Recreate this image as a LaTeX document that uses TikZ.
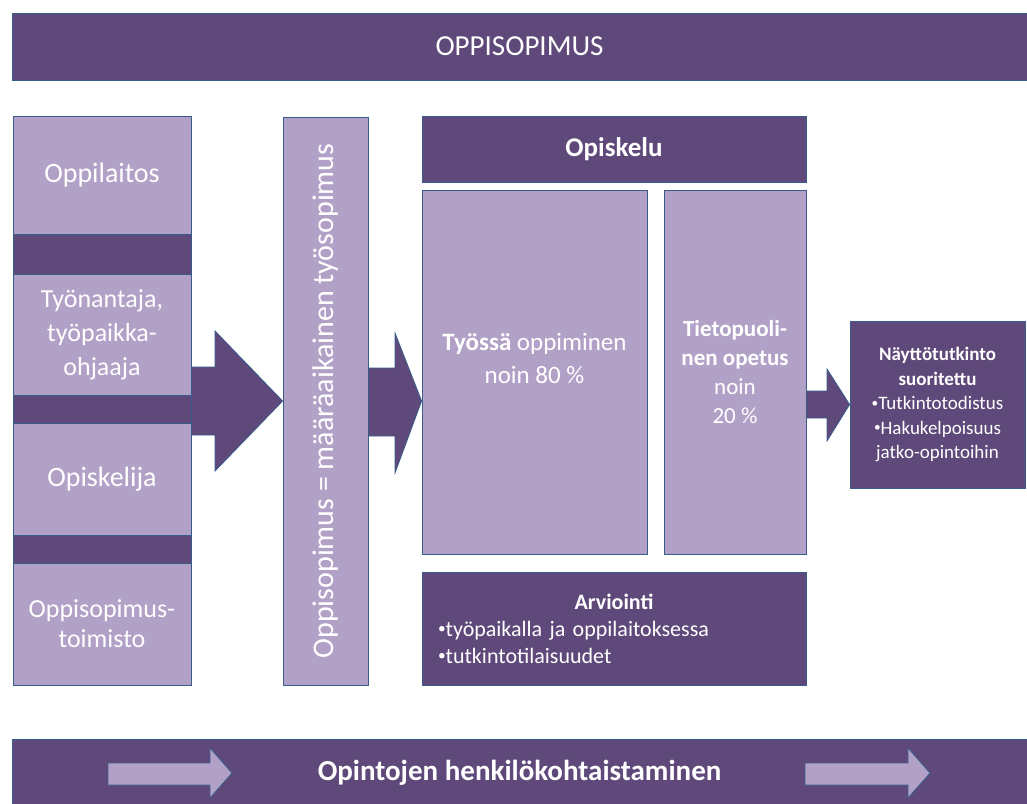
\documentclass[tikz,border=0pt]{standalone}
\usepackage{fontspec}
\setmainfont{Carlito}
\usetikzlibrary{positioning,backgrounds}
\definecolor{plumdark}{HTML}{5F497A}
\definecolor{plumlight}{HTML}{B2A1C7}
\definecolor{edgeblue}{HTML}{385D8A}
\newcommand{\smallbul}{\raisebox{0.12em}{\scalebox{0.7}{•}}}

\begin{document}
\begin{tikzpicture}[x=1pt, y=-1pt, every node/.style={inner sep=0pt, text=white, align=center}, darkbox/.style={draw=edgeblue, line width=0.8pt, fill=plumdark}, lightbox/.style={draw=edgeblue, line width=0.8pt, fill=plumlight}, bigarrow/.style={draw=edgeblue, line width=0.8pt, fill=plumdark}, smallarrow/.style={draw=edgeblue, line width=0.8pt, fill=plumlight}]
\useasboundingbox (0,0) rectangle (1027,803);
\node[darkbox, minimum width=1015pt, minimum height=67pt, font=\fontsize{29}{34}\selectfont] (title) at (519.5,46.5) {OPPISOPIMUS};
\node[darkbox, minimum width=178pt, minimum height=569pt] (leftcol) at (102,400.5) {};
\node[lightbox, minimum width=178pt, minimum height=118pt, font=\fontsize{28}{34}\selectfont] (school) at (102,175) {Oppilaitos};
\node[lightbox, minimum width=178pt, minimum height=121pt, font=\fontsize{26}{34}\selectfont] (employer) at (102,334.5) {Työnantaja,\\työpaikka-\\ohjaaja};
\node[lightbox, minimum width=178pt, minimum height=112pt, font=\fontsize{28}{34}\selectfont] (student) at (102,479) {Opiskelija};
\node[lightbox, minimum width=178pt, minimum height=122pt, font=\fontsize{26}{30}\selectfont] (office) at (102,624) {Oppisopimus-\\toimisto};
\node[lightbox, minimum width=85pt, minimum height=568pt] (contract) at (325.5,401) {};
\node[rotate=90, font=\fontsize{30}{36}\selectfont] (contracttext) at (contract) {Oppisopimus = määräaikainen työsopimus};
\node[darkbox, minimum width=384pt, minimum height=66pt, font=\fontsize{27}{32}\selectfont\bfseries] (study) at (614,149) {Opiskelu};
\node[lightbox, minimum width=225pt, minimum height=364pt, font=\fontsize{25}{33}\selectfont] (work) at (534.5,372) {\textbf{Työssä} oppiminen\\noin 80 \%\\[-5pt]};
\node[lightbox, minimum width=142pt, minimum height=364pt, font=\fontsize{23}{29}\selectfont] (theory) at (735,372) {\textbf{Tietopuoli-}\\\textbf{nen opetus}\\noin\\20 \%};
\node[darkbox, minimum width=384pt, minimum height=113pt, text width=352pt, align=left, font=\fontsize{22}{27}\selectfont] (assess) at (614,628.5) {\makebox[352pt][c]{\bfseries Arviointi}\\\smallbul työpaikalla ja oppilaitoksessa\\\smallbul tutkintotilaisuudet};
\node[darkbox, minimum width=175pt, minimum height=167pt, font=\fontsize{19}{24.5}\selectfont] (result) at (937.5,404.5) {\textbf{Näyttötutkinto}\\\textbf{suoritettu}\\\smallbul Tutkintotodistus\\\smallbul Hakukelpoisuus\\jatko-opintoihin};
\node[darkbox, minimum width=1015pt, minimum height=67pt, font=\fontsize{29}{34}\selectfont\bfseries] (personal) at (519.5,772.5) {Opintojen henkilökohtaistaminen};
% block arrows behind the boxes
\begin{scope}[on background layer]
\draw[bigarrow] (leftcol.east |- 0,367) -- (215,367) -- (215,331) -- (contract.west) -- (215,471) -- (215,435) -- (leftcol.east |- 0,435) -- cycle;
\draw[bigarrow] (contract.east |- 0,368) -- (395,368) -- (395,333) -- (work.west |- contract.west) -- (395,473) -- (395,436) -- (contract.east |- 0,436) -- cycle;
\draw[bigarrow] (theory.east |- 0,391) -- (827,391) -- (827,369) -- (result.west) -- (827,441) -- (827,418) -- (theory.east |- 0,418) -- cycle;
\end{scope}
% light arrows in the bottom band
\draw[smallarrow] (108,763) -- (210,763) -- (210,748) -- (232,773) -- (210,798) -- (210,785) -- (108,785) -- cycle;
\draw[smallarrow] (805,763) -- (908,763) -- (908,748) -- (930,773) -- (908,798) -- (908,785) -- (805,785) -- cycle;
\end{tikzpicture}
\end{document}
